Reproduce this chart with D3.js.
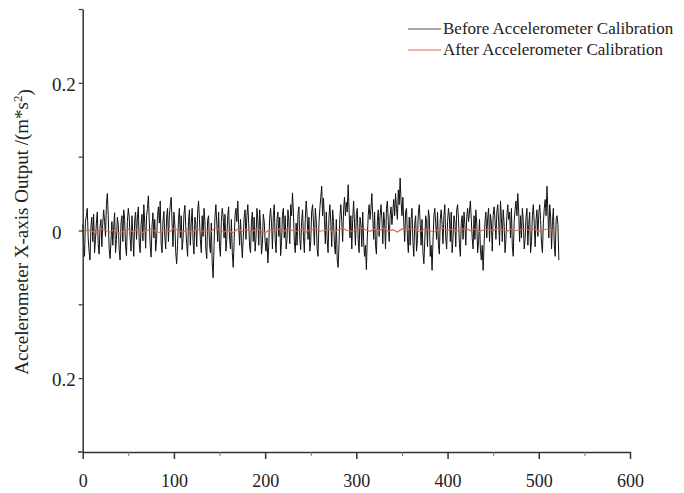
<!DOCTYPE html>
<html>
<head>
<meta charset="utf-8">
<script src="https://cdn.jsdelivr.net/npm/d3@7"></script>
<style>
body { margin: 0; background: #fff; }
svg, svg text { font-family: "Liberation Serif", "Times New Roman", "DejaVu Serif", serif; }
svg text { fill: #222; }
</style>
</head>
<body>
<div id="chart"></div>
<script>
// x-axis output before calibration, one value per sample
var beforeStep = 1;
var beforeValues = [
  0.008, -0.02, -0.035, 0.012, 0.02, 0.03, -0.01, -0.028, -0.04, 0.005, 0.018, -0.015, 0.022, -0.03, -0.012, 0.01, 0.025, -0.018, -0.032, 0.004,
  0.015, -0.022, 0.01, 0.028, 0.012, -0.008, 0.035, 0.05, 0.02, -0.025, -0.038, -0.015, 0.012, -0.02, 0.006, 0.024, -0.03, -0.012, 0.018, 0.008,
  -0.026, -0.04, 0.01, 0.02, -0.015, 0.028, 0.015, -0.022, -0.034, 0.012, 0.03, 0.018, -0.01, -0.028, 0.02, -0.006, -0.035, 0.015, 0.025, -0.012,
  0.018, 0.032, -0.018, -0.03, 0.008, 0.022, -0.014, 0.035, 0.01, -0.024, 0.02, 0.03, 0.047, 0.012, -0.02, -0.036, 0.006, 0.024, -0.01, 0.015,
  -0.028, -0.012, 0.02, 0.032, 0.01, 0.04, -0.018, -0.03, 0.012, 0.026, -0.008, -0.025, 0.018, 0.03, -0.015, 0.02, 0.035, 0.045, 0.01, -0.022,
  0.025, 0.008, -0.03, -0.045, -0.02, 0.015, 0.03, -0.01, 0.02, -0.026, -0.012, 0.022, 0.034, 0.005, -0.018, -0.035, 0.012, 0.028, -0.02, 0.01,
  0.03, -0.015, -0.032, 0.018, 0.008, -0.022, 0.025, 0.04, 0.015, -0.012, -0.03, 0.02, -0.008, 0.03, 0.012, -0.025, -0.038, 0.015, 0.02, -0.018,
  -0.03, 0.01, -0.045, -0.064, -0.02, 0.018, 0.035, 0.01, -0.015, 0.025, -0.022, -0.035, 0.012, 0.03, 0.018, -0.01, 0.022, -0.028, -0.012, 0.02,
  0.032, -0.01, -0.025, 0.015, -0.03, -0.05, -0.015, 0.02, 0.03, 0.012, 0.04, 0.008, -0.02, 0.015, -0.015, -0.037, -0.01, 0.018, 0.028, -0.012,
  0.02, 0.035, 0.01, -0.022, -0.03, 0.012, 0.025, -0.015, 0.018, -0.028, -0.01, 0.03, 0.015, -0.02, 0.028, 0.006, -0.032, -0.018, 0.022, 0.012,
  -0.015, -0.028, -0.01, -0.044, -0.02, 0.018, 0.03, 0.01, -0.025, 0.02, 0.035, -0.012, -0.03, 0.015, 0.025, -0.008, 0.018, -0.034, -0.015, 0.022,
  0.03, -0.01, 0.02, -0.025, -0.012, 0.028, 0.012, -0.018, 0.035, 0.02, 0.051, 0.025, -0.015, -0.03, 0.01, -0.02, 0.022, 0.032, -0.012, -0.026,
  0.012, 0.028, -0.008, -0.03, 0.015, 0.04, 0.022, -0.012, 0.018, -0.028, -0.015, 0.025, 0.035, 0.01, -0.02, 0.03, 0.015, -0.025, -0.035, 0.01,
  0.03, 0.045, 0.06, 0.02, 0.044, 0.015, -0.018, 0.025, -0.012, -0.03, 0.018, 0.035, 0.01, -0.022, 0.028, 0.012, -0.02, -0.032, 0.015, -0.04,
  -0.05, -0.018, 0.02, 0.035, 0.012, -0.015, 0.028, 0.045, 0.02, 0.038, 0.025, 0.062, 0.03, -0.01, 0.02, -0.025, 0.015, 0.04, 0.01, -0.02,
  0.022, 0.03, -0.012, -0.03, 0.018, 0.008, -0.022, 0.025, -0.015, -0.035, -0.02, -0.053, -0.01, 0.02, 0.035, 0.015, 0.03, 0.05, 0.018, -0.012,
  0.025, -0.02, -0.032, 0.012, 0.028, -0.008, 0.02, 0.035, 0.015, -0.018, 0.025, 0.01, -0.025, 0.03, 0.04, 0.012, -0.015, 0.02, 0.032, 0.008,
  0.025, 0.042, 0.02, 0.05, 0.03, 0.015, 0.055, 0.035, 0.071, 0.04, 0.02, 0.045, 0.01, -0.015, 0.025, 0.03, -0.01, -0.03, 0.018, -0.02,
  0.015, 0.03, -0.015, -0.035, 0.01, 0.02, -0.028, -0.012, 0.025, 0.035, 0.01, -0.02, 0.015, -0.03, -0.045, -0.015, 0.02, 0.012, -0.022, 0.028,
  0.018, -0.035, -0.02, -0.054, -0.015, 0.02, 0.03, 0.01, -0.012, 0.025, -0.02, -0.032, 0.015, 0.028, 0.008, -0.018, 0.02, 0.035, -0.01, -0.025,
  0.012, 0.03, 0.018, -0.015, 0.025, -0.03, -0.01, 0.02, 0.012, -0.022, 0.028, 0.035, 0.015, -0.018, -0.035, 0.01, 0.02, -0.012, 0.025, 0.008,
  -0.02, 0.018, 0.03, 0.012, 0.025, 0.04, 0.015, -0.01, -0.025, 0.02, -0.012, 0.028, 0.01, -0.03, -0.015, 0.015, -0.025, -0.04, -0.02, -0.054,
  -0.02, 0.012, 0.025, -0.01, 0.018, 0.03, -0.015, 0.022, 0.01, -0.028, 0.02, 0.032, 0.015, -0.012, 0.025, 0.035, 0.012, -0.02, 0.04, 0.018,
  -0.015, 0.028, 0.01, -0.03, -0.012, 0.02, 0.035, 0.015, 0.025, -0.01, 0.03, -0.022, -0.035, 0.012, 0.028, 0.04, 0.02, 0.05, 0.025, -0.015,
  0.02, -0.01, 0.03, 0.012, -0.025, -0.012, 0.018, 0.03, -0.02, 0.008, 0.025, -0.03, -0.015, 0.02, 0.035, 0.01, -0.022, 0.015, 0.028, -0.008,
  0.022, 0.035, 0.015, -0.018, -0.03, 0.01, 0.03, 0.042, 0.02, 0.06, 0.025, -0.01, 0.035, 0.018, -0.025, 0.012, 0.03, -0.02, -0.035, 0.015,
  0.02, 0.008, -0.04
];

// after calibration, one value every 5 samples
var afterStep = 5;
var afterValues = [
  -0.002, 0.001, -0.001, -0.003, 0.002, 0.0, -0.002, 0.001, -0.004, -0.001,
  0.002, -0.002, 0.001, -0.003, 0.0, 0.002, -0.001, -0.003, 0.001, -0.002,
  0.003, 0.0, -0.002, 0.001, -0.003, 0.002, -0.001, 0.0, -0.002, 0.003,
  0.001, -0.002, 0.0, -0.003, 0.002, -0.001, 0.001, -0.002, 0.002, 0.0,
  -0.003, 0.001, -0.001, 0.002, -0.002, 0.003, 0.0, -0.001, 0.002, -0.002,
  0.001, 0.003, -0.001, 0.0, 0.002, -0.002, 0.001, 0.003, 0.0, -0.001,
  0.002, 0.004, 0.001, -0.001, 0.002, 0.0, 0.003, -0.001, 0.001, -0.002,
  0.002, 0.0, 0.003, 0.001, -0.001, 0.002, 0.0, -0.002, 0.001, 0.003,
  0.0, 0.002, -0.001, 0.001, 0.003, 0.0, 0.002, -0.001, 0.001, 0.002,
  0.0, 0.003, 0.001, -0.001, 0.002, 0.0, 0.001, 0.003, 0.0, 0.002,
  -0.001, 0.001, 0.002, 0.0, 0.001
];

var seriesNames = ["Before Accelerometer Calibration", "After Accelerometer Calibration"];
var xTicks = [0, 100, 200, 300, 400, 500, 600];
var xMinorTicks = [50, 150, 250, 350, 450, 550];
var yTicks = [0.2, 0, -0.2];
var yTickLabels = ["0.2", "0", "0.2"];
var yMinorTicks = [0.3, 0.1, -0.1];

var serif = '"Liberation Serif", "Times New Roman", "DejaVu Serif", serif';
var width = 684, height = 493;

var svg = d3.select("#chart").append("svg")
  .attr("width", width)
  .attr("height", height)
  .style("font-family", serif);

var x = d3.scaleLinear().domain([0, 600]).range([82.7, 630]);
var y = d3.scaleLinear().domain([-0.3, 0.3]).range([452, 9]);

// lines
var line = d3.line()
  .x(d => x(d.x))
  .y(d => y(d.v));

var beforeData = beforeValues.map((v, i) => ({x: i * beforeStep, v: v}));
var afterData = afterValues.map((v, i) => ({x: i * afterStep, v: v}));

svg.append("path")
  .datum(beforeData)
  .attr("fill", "none")
  .attr("stroke", "#111")
  .attr("stroke-width", 1)
  .attr("d", line);

svg.append("path")
  .datum(afterData)
  .attr("fill", "none")
  .attr("stroke", "#d9694d")
  .attr("stroke-width", 1.2)
  .attr("d", line);

// x axis
var xAxis = svg.append("g")
  .attr("transform", "translate(0,452)")
  .call(d3.axisBottom(x).tickValues(xTicks).tickSize(7).tickSizeOuter(0))
  .attr("font-family", serif);
xAxis.select(".domain").attr("stroke", "#333").attr("stroke-width", 1.5);
xAxis.selectAll(".tick line").attr("stroke", "#333").attr("stroke-width", 1.5);
xAxis.selectAll(".tick text")
  .attr("y", 35).attr("dy", null)
  .style("font-family", serif)
  .style("font-size", "18px");

svg.append("g")
  .attr("transform", "translate(0,452)")
  .call(d3.axisBottom(x).tickValues(xMinorTicks).tickSize(4).tickFormat(""))
  .call(g => g.select(".domain").remove())
  .selectAll(".tick line").attr("stroke", "#777").attr("stroke-width", 1);

svg.append("line")
  .attr("x1", 78).attr("x2", x(0))
  .attr("y1", 452).attr("y2", 452)
  .attr("stroke", "#333").attr("stroke-width", 1.5);

// y axis
var yAxis = svg.append("g")
  .attr("transform", "translate(82.7,0)")
  .call(d3.axisLeft(y).tickValues(yTicks).tickSize(4).tickSizeOuter(0)
    .tickFormat((d, i) => yTickLabels[i]))
  .attr("font-family", serif);
yAxis.select(".domain").attr("stroke", "#333").attr("stroke-width", 1.5);
yAxis.selectAll(".tick line").attr("stroke", "#333").attr("stroke-width", 1.2);
yAxis.selectAll(".tick text")
  .attr("x", 52 - 82.7)
  .attr("text-anchor", "start")
  .attr("dy", "0.4em")
  .style("font-family", serif)
  .style("font-size", "19px");

svg.append("g")
  .attr("transform", "translate(82.7,0)")
  .call(d3.axisLeft(y).tickValues(yMinorTicks).tickSize(4).tickFormat(""))
  .call(g => g.select(".domain").remove())
  .selectAll(".tick line").attr("stroke", "#333").attr("stroke-width", 1.2);

// y title
var yTitle = svg.append("text")
  .attr("transform", "translate(28,232) rotate(-90)")
  .attr("text-anchor", "middle")
  .style("font-family", serif)
  .style("font-size", "19px");
yTitle.append("tspan").text("Accelerometer X-axis Output /(m*s");
yTitle.append("tspan").attr("dy", "-0.45em").style("font-size", "13px").text("2");
yTitle.append("tspan").attr("dy", "0.45em").text(")");

// legend
var legendColors = ["#555", "#d9694d"];
var legend = svg.selectAll(".legend")
  .data(seriesNames)
  .enter().append("g")
  .attr("class", "legend")
  .attr("transform", (d, i) => `translate(408,${29 + i * 21})`);

legend.append("line")
  .attr("x1", 0).attr("x2", 33)
  .attr("stroke", (d, i) => legendColors[i])
  .attr("stroke-width", 1);

legend.append("text")
  .attr("x", 35)
  .attr("dy", "0.32em")
  .style("font-family", serif)
  .style("font-size", "17px")
  .text(d => d);
</script>
</body>
</html>
